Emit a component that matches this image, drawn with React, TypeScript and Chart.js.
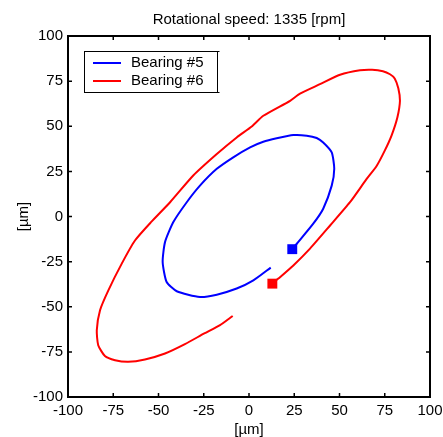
import React, { useEffect, useRef } from "react";
import { Chart, registerables } from "chart.js";

Chart.register(...registerables);

const TITLE = "Rotational speed: 1335 [rpm]";
const X_LABEL = "[µm]";
const Y_LABEL = "[µm]";
const SERIES_NAMES = ["Bearing #5", "Bearing #6"];
const SERIES_COLORS = ["#0000ff", "#ff0000"];
const AXIS_MIN = -100;
const AXIS_MAX = 100;
const TICK_STEP = 25;

const bearing5X = [23.9, 26.4, 35.5, 41, 45.7, 47.1, 45.7, 41, 37.4, 31.9, 24.5, 15.3, 7.9, 0.6, -8.7, -17.8, -27.1, -34.4, -41.8, -46.4, -47.7, -45.5, -39.9, -27.1, -17.8, -6.8, 2.4, 12];
const bearing5Y = [-18.1, -15.1, -4, 4.3, 17.1, 26.4, 35.5, 41, 43.5, 44.8, 45.1, 43.3, 41.4, 38.3, 32.8, 26.4, 17.1, 7.9, -3.1, -14.2, -25.2, -36.3, -41.4, -44.6, -43.3, -39.9, -35.4, -28.3];

const bearing6X = [12.9, 16.2, 24.5, 33.7, 44.8, 55.8, 65, 70.5, 75, 78.8, 82, 83.4, 82.5, 80.5, 77.9, 74, 68, 61.3, 50.3, 39.2, 28.2, 22.7, 7.9, 1.5, -6.8, -17.8, -30.8, -43.6, -54, -63, -70.3, -77.7, -82.3, -84.1, -83.3, -79.6, -74, -66.7, -57.5, -46.4, -35.4, -24.7, -16, -9];
const bearing6Y = [-37.2, -34.4, -27.1, -17.8, -5, 7.9, 20.8, 28, 36.5, 45, 55, 64.1, 71, 76.5, 78.8, 80.5, 81.3, 81, 78.5, 73.3, 68.1, 64.1, 55.8, 49.9, 43.8, 34.6, 22.7, 7.9, -3, -13.3, -26.1, -40.9, -51.9, -63, -71.3, -77.3, -79.6, -80.5, -79.2, -75.9, -70.7, -64.8, -60.2, -55.1];

const FONT_FAMILY = "'Liberation Sans', Arial, sans-serif";

const toPoints = (xs: number[], ys: number[]) => xs.map((x, i) => ({ x, y: ys[i] }));

const framePlugin = {
  id: "frameAndLegend",
  afterDraw(chart: any) {
    const { ctx, chartArea } = chart;
    const { left, right, top, bottom } = chartArea;
    const xs = chart.scales.x;
    const ys = chart.scales.y;
    ctx.save();
    // box
    ctx.strokeStyle = "#000";
    ctx.lineWidth = 2;
    ctx.strokeRect(left, top, right - left, bottom - top);
    // inward ticks
    ctx.lineWidth = 1.5;
    const tl = 4;
    for (let v = AXIS_MIN; v <= AXIS_MAX; v += TICK_STEP) {
      const px = xs.getPixelForValue(v);
      const py = ys.getPixelForValue(v);
      ctx.beginPath();
      ctx.moveTo(px, bottom);
      ctx.lineTo(px, bottom - tl);
      ctx.moveTo(px, top);
      ctx.lineTo(px, top + tl);
      ctx.moveTo(left, py);
      ctx.lineTo(left + tl, py);
      ctx.moveTo(right, py);
      ctx.lineTo(right - tl, py);
      ctx.stroke();
    }
    // title
    ctx.fillStyle = "#000";
    ctx.font = `15px ${FONT_FAMILY}`;
    ctx.textAlign = "center";
    ctx.textBaseline = "middle";
    ctx.fillText(TITLE, (left + right) / 2, 20);
    // legend
    const lx = left + 16;
    const ly = top + 15;
    const lw = 133;
    const lh = 41;
    ctx.fillStyle = "#fff";
    ctx.fillRect(lx, ly, lw, lh);
    ctx.strokeStyle = "#000";
    ctx.lineWidth = 1;
    ctx.strokeRect(lx + 0.5, ly + 0.5, lw, lh);
    ctx.beginPath();
    ctx.moveTo(lx + lw + 0.5, ly + 0.5);
    ctx.lineTo(lx + lw + 2.5, ly + 0.5);
    ctx.moveTo(lx + lw + 0.5, ly + lh + 0.5);
    ctx.lineTo(lx + lw + 2.5, ly + lh + 0.5);
    ctx.stroke();
    ctx.font = `15px ${FONT_FAMILY}`;
    ctx.textAlign = "left";
    ctx.textBaseline = "middle";
    SERIES_NAMES.forEach((name, i) => {
      const yy = ly + 12 + i * 18;
      ctx.strokeStyle = SERIES_COLORS[i];
      ctx.lineWidth = 2;
      ctx.beginPath();
      ctx.moveTo(lx + 9, yy);
      ctx.lineTo(lx + 37, yy);
      ctx.stroke();
      ctx.fillStyle = "#000";
      ctx.fillText(name, lx + 47, yy);
    });
    ctx.restore();
  },
};

export default function App() {
  const canvasRef = useRef<HTMLCanvasElement | null>(null);

  useEffect(() => {
    if (!canvasRef.current) return;
    const tickFont = { family: FONT_FAMILY, size: 15 };
    const chart = new Chart(canvasRef.current, {
      type: "scatter",
      data: {
        datasets: [
          {
            label: SERIES_NAMES[0],
            data: toPoints(bearing5X, bearing5Y),
            showLine: true,
            borderColor: SERIES_COLORS[0],
            backgroundColor: SERIES_COLORS[0],
            borderWidth: 2,
            tension: 0.2,
            pointStyle: "rect",
            pointRadius: (c: any) => (c.dataIndex === 0 ? 7 : 0),
            pointBorderWidth: 0,
            pointHoverRadius: 0,
          },
          {
            label: SERIES_NAMES[1],
            data: toPoints(bearing6X, bearing6Y),
            showLine: true,
            borderColor: SERIES_COLORS[1],
            backgroundColor: SERIES_COLORS[1],
            borderWidth: 2,
            tension: 0.2,
            pointStyle: "rect",
            pointRadius: (c: any) => (c.dataIndex === 0 ? 7 : 0),
            pointBorderWidth: 0,
            pointHoverRadius: 0,
          },
        ],
      },
      options: {
        responsive: false,
        animation: false,
        layout: { padding: { top: 36, right: 13, left: 0, bottom: 0 } },
        plugins: {
          legend: { display: false },
          tooltip: { enabled: false },
          title: { display: false },
        },
        scales: {
          x: {
            type: "linear",
            min: AXIS_MIN,
            max: AXIS_MAX,
            grid: { display: false, drawTicks: false },
            border: { display: false },
            ticks: { stepSize: TICK_STEP, color: "#000", font: tickFont, padding: 5, maxRotation: 0, autoSkip: false },
            title: { display: true, text: X_LABEL, color: "#000", font: { ...tickFont, lineHeight: 1 }, padding: { top: 0, bottom: 0 } },
            afterFit: (s: any) => {
              s.height = 40;
              s.paddingLeft = 0;
              s.paddingRight = 0;
            },
          },
          y: {
            type: "linear",
            min: AXIS_MIN,
            max: AXIS_MAX,
            grid: { display: false, drawTicks: false },
            border: { display: false },
            ticks: { stepSize: TICK_STEP, color: "#000", font: tickFont, padding: 5, autoSkip: false },
            title: { display: true, text: Y_LABEL, color: "#000", font: { ...tickFont, lineHeight: 1 }, padding: { top: 16, bottom: 0 } },
            afterFit: (s: any) => {
              s.width = 68;
              s.paddingTop = 0;
              s.paddingBottom = 0;
            },
          },
        },
      },
      plugins: [framePlugin],
    });
    return () => chart.destroy();
  }, []);

  return (
    <div style={{ position: "absolute", left: 0, top: 0, width: 443, height: 437, background: "#fff" }}>
      <canvas ref={canvasRef} width={443} height={437} style={{ display: "block" }} />
    </div>
  );
}
